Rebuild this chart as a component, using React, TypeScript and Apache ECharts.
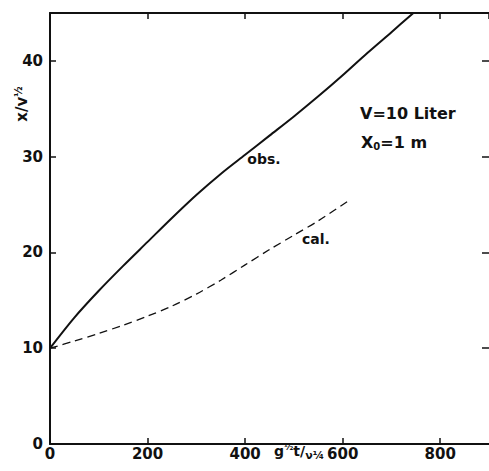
import React, { useEffect, useRef } from "react";
import * as echarts from "echarts";

const obsData: [number, number][] = [
  [0, 10], [50, 13.2], [100, 16.0], [150, 18.6], [200, 21.1], [250, 23.6],
  [300, 26.0], [350, 28.2], [400, 30.2], [450, 32.2], [500, 34.2], [550, 36.3],
  [600, 38.5], [650, 40.8], [700, 43.0], [745, 45],
];
const calData: [number, number][] = [
  [0, 10], [50, 10.75], [100, 11.55], [150, 12.4], [200, 13.35], [250, 14.4],
  [300, 15.65], [350, 17.1], [400, 18.7], [450, 20.3], [500, 21.8], [550, 23.3], [615, 25.5],
];
const xTicks = [0, 200, 400, 600, 800];
const yTicks = [0, 10, 20, 30, 40];

const FONT = "DejaVu Sans";
const INK = "#111";

export default function App() {
  const ref = useRef<HTMLDivElement>(null);
  useEffect(() => {
    if (!ref.current) return;
    const chart = echarts.init(ref.current, undefined, { renderer: "svg" });
    const labelStyle = { color: INK, fontFamily: FONT, fontSize: 15, fontWeight: "bold" as const };
    const axisLine = { show: true, onZero: false, lineStyle: { color: INK, width: 2 } };
    const tick = (len: number) => ({ show: true, inside: true, length: len, lineStyle: { color: INK, width: 1.5 } });
    chart.setOption({
      animation: false,
      backgroundColor: "#fff",
      grid: { left: 50, top: 13, right: -3, bottom: 27, containLabel: false },
      xAxis: [
        {
          type: "value", position: "bottom", min: 0, max: 900, interval: 200,
          axisLine, axisTick: tick(6),
          axisLabel: { ...labelStyle, margin: 2, showMaxLabel: false,
            formatter: (v: number) => (xTicks.includes(v) ? String(v) : "") },
          splitLine: { show: false },
        },
        {
          type: "value", position: "top", min: 0, max: 900, interval: 200,
          axisLine, axisTick: tick(6),
          axisLabel: { show: false },
          splitLine: { show: false },
        },
      ],
      yAxis: [
        {
          type: "value", position: "left", min: 0, max: 45, interval: 10,
          axisLine, axisTick: tick(6),
          axisLabel: { ...labelStyle, margin: 7, showMaxLabel: false,
            formatter: (v: number) => (yTicks.includes(v) ? String(v) : "") },
          splitLine: { show: false },
        },
        {
          type: "value", position: "right", min: 0, max: 45, interval: 10,
          axisLine: { show: false, onZero: false },
          axisTick: tick(7),
          axisLabel: { show: false },
          splitLine: { show: false },
        },
      ],
      series: [
        {
          type: "line", name: "obs.", data: obsData, smooth: 0.3, showSymbol: false,
          xAxisIndex: 0, yAxisIndex: 0,
          lineStyle: { color: INK, width: 2 },
        },
        {
          type: "line", name: "cal.", data: calData, smooth: 0.3, showSymbol: false,
          xAxisIndex: 0, yAxisIndex: 0,
          lineStyle: { color: INK, width: 1.3, type: [8, 5] },
        },
      ],
      graphic: [
        {
          type: "text", x: 264, y: 159,
          style: { text: "obs.", fill: INK, font: `bold 14px '${FONT}'`, align: "center", verticalAlign: "middle" },
        },
        {
          type: "text", x: 316, y: 239,
          style: { text: "cal.", fill: INK, font: `bold 14px '${FONT}'`, align: "center", verticalAlign: "middle" },
        },
        {
          type: "text", x: 360, y: 113,
          style: { text: "V=10 Liter", fill: INK, font: `bold 16px '${FONT}'`, align: "left", verticalAlign: "middle" },
        },
        {
          type: "text", x: 361, y: 142,
          style: {
            text: "X{s|0}=1 m", fill: INK, font: `bold 16px '${FONT}'`, align: "left", verticalAlign: "middle",
            rich: { s: { fontSize: 10, fontFamily: FONT, fontWeight: "bold", fill: INK, padding: [8, 0, 0, 0] } },
          },
        },
        {
          type: "text", x: 22, y: 104, rotation: Math.PI / 2,
          style: {
            text: "x/v{s|½}", fill: INK, font: `bold 15px '${FONT}'`, align: "center", verticalAlign: "middle",
            rich: { s: { fontSize: 10, fontFamily: FONT, fontWeight: "bold", fill: INK, padding: [0, 0, 8, 0] } },
          },
        },
        {
          type: "text", x: 274, y: 451,
          style: {
            text: "g{p|½}t/{b|ν¼}", fill: INK, font: `bold 14px '${FONT}'`, align: "left", verticalAlign: "middle",
            rich: {
              p: { fontSize: 9, fontFamily: FONT, fontWeight: "bold", fill: INK, padding: [0, 0, 8, 0] },
              b: { fontSize: 11, fontFamily: FONT, fontWeight: "bold", fill: INK, padding: [8, 0, 0, 0] },
            },
          },
        },
      ],
    });
    return () => chart.dispose();
  }, []);
  return (
    <div
      ref={ref}
      style={{ position: "absolute", left: 0, top: 0, width: 489, height: 471 }}
    />
  );
}
